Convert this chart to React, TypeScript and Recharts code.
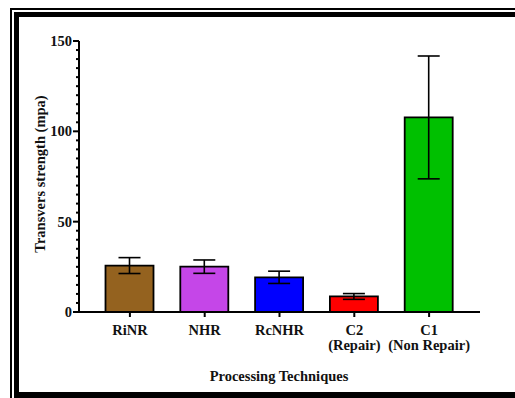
import React from 'react';
import { BarChart, Bar, XAxis, YAxis, ErrorBar, Cell, Label } from 'recharts';

const categories = ['RiNR', 'NHR', 'RcNHR', 'C2\n(Repair)', 'C1\n(Non Repair)'];
const means = [25.7, 25.1, 19.2, 8.6, 107.7];
const errors = [4.4, 3.7, 3.4, 1.6, 34.0];
const colors = ['#94621f', '#c546e8', '#0000ff', '#ff0000', '#00c000'];
const yTicks = [0, 5, 10, 15, 20, 25, 30, 35, 40, 45, 50, 55, 60, 65, 70, 75, 80, 85, 90, 95, 100, 105, 110, 115, 120, 125, 130, 135, 140, 145, 150];
const majorTicks = [0, 50, 100, 150];

const data = categories.map((c, i) => ({ name: c, value: means[i], err: errors[i] }));

const textStyle: React.CSSProperties = { fontFamily: 'Liberation Serif', fontWeight: 700, fontSize: 14.5 };

const XTick = (props: any) => {
  const { x, y, payload } = props;
  const lines = String(payload.value).split('\n');
  return (
    <g>
      {lines.map((l, i) => (
        <text key={i} x={x} y={y + 16 + i * 15} textAnchor="middle" style={textStyle} fill="#111">
          {l}
        </text>
      ))}
    </g>
  );
};

const YTick = (props: any) => {
  const { x, y, payload } = props;
  const major = majorTicks.includes(payload.value);
  const len = major ? 6 : 3;
  return (
    <g>
      <line x1={x - len} x2={x} y1={y} y2={y} stroke="#000" strokeWidth={2} />
      {major && (
        <text x={x - 7} y={y} dy="0.35em" textAnchor="end" style={textStyle} fill="#111">
          {payload.value}
        </text>
      )}
    </g>
  );
};

const YLabel = () => (
  <text
    x={39.5}
    y={174}
    transform="rotate(-90, 39.5, 174)"
    textAnchor="middle"
    dominantBaseline="central"
    style={textStyle}
    fill="#111"
  >
    Transvers strength (mpa)
  </text>
);

const XLabel = () => (
  <text x={279} y={381} textAnchor="middle" style={textStyle} fill="#111">
    Processing Techniques
  </text>
);

export default function App() {
  return (
    <div style={{ position: 'absolute', left: 0, top: 0, width: 515, height: 398, background: '#fff', overflow: 'hidden' }}>
      <div style={{ position: 'absolute', left: 10, top: 8, width: 700, height: 700, borderTop: '2px solid #000', borderLeft: '2px solid #000', boxSizing: 'border-box' }} />
      <div style={{ position: 'absolute', left: 14, top: 12, width: 700, height: 386, borderTop: '5px solid #000', borderLeft: '5px solid #000', borderBottom: '6px solid #000', boxSizing: 'border-box' }} />
      <div style={{ position: 'absolute', left: 0, top: 0 }}>
        <BarChart width={515} height={398} data={data} margin={{ top: 41, right: 35, left: 0, bottom: 46 }} barSize={48}>
          <XAxis
            dataKey="name"
            interval={0}
            padding={{ left: 13.5, right: 13.5 }}
            axisLine={{ stroke: '#000', strokeWidth: 2 }}
            tickLine={{ stroke: '#000', strokeWidth: 2 }}
            tickSize={5}
            tick={<XTick />}
            height={40}
          >
            <Label content={<XLabel />} />
          </XAxis>
          <YAxis
            domain={[0, 150]}
            ticks={yTicks}
            interval={0}
            width={79}
            axisLine={{ stroke: '#000', strokeWidth: 2 }}
            tickLine={false}
            tickSize={0}
            tickMargin={0}
            tick={<YTick />}
          >
            <Label content={<YLabel />} />
          </YAxis>
          <Bar dataKey="value" stroke="#000" strokeWidth={1.8} isAnimationActive={false}>
            {data.map((d, i) => (
              <Cell key={d.name} fill={colors[i]} />
            ))}
            <ErrorBar dataKey="err" width={11} stroke="#000" strokeWidth={1.6} isAnimationActive={false} />
          </Bar>
        </BarChart>
      </div>
    </div>
  );
}
